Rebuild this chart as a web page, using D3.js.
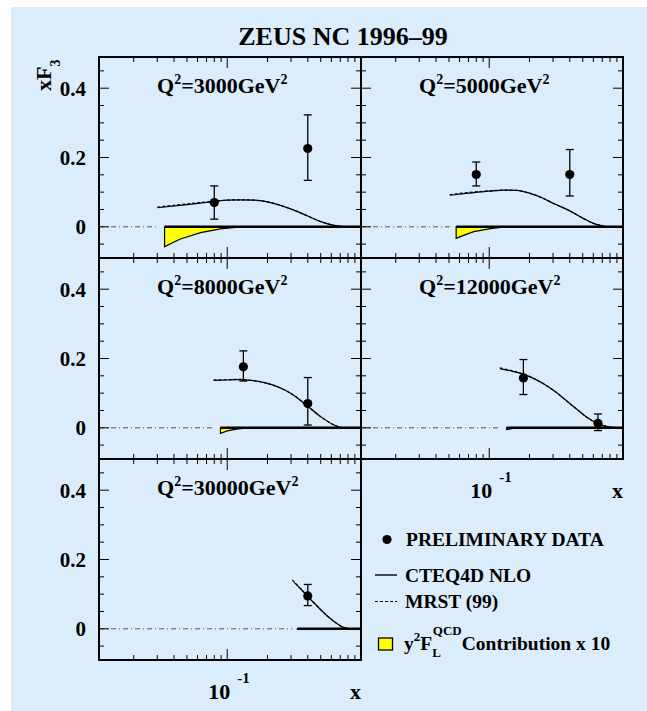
<!DOCTYPE html>
<html><head><meta charset="utf-8">
<script src="https://cdn.jsdelivr.net/npm/d3@7"></script>
<style>
html,body{margin:0;padding:0;background:#fff;overflow:hidden}
svg{display:block}
svg text{font-family:"Liberation Serif","Times New Roman",serif;font-weight:bold;fill:#000}
</style>
</head><body>
<svg id="c" width="647" height="711"></svg>
<script>
// ---------------- data ----------------
const q2Labels = ["3000", "5000", "8000", "12000", "30000"];
const panelCol = [0, 1, 0, 1, 0];
const panelRow = [0, 0, 1, 1, 2];

// preliminary data points
const dataX  = [[0.08, 0.4], [0.08, 0.4], [0.132, 0.4], [0.18, 0.65], [0.4]];
const dataY  = [[0.070, 0.226], [0.151, 0.151], [0.176, 0.070], [0.144, 0.013], [0.095]];
const errUp  = [[0.118, 0.323], [0.187, 0.223], [0.222, 0.145], [0.197, 0.040], [0.128]];
const errDn  = [[0.022, 0.134], [0.118, 0.089], [0.135, 0.008], [0.096, -0.008], [0.067]];

// CTEQ4D NLO curves
const cteqX = [
  [0.03, 0.05, 0.08, 0.1, 0.126, 0.16, 0.2, 0.25, 0.315, 0.4, 0.5, 0.63, 0.75, 0.85, 1.0],
  [0.0507, 0.07, 0.1, 0.13, 0.16, 0.2, 0.25, 0.3, 0.4, 0.5, 0.6, 0.7, 0.78, 1.0],
  [0.079, 0.1, 0.12, 0.15, 0.2, 0.25, 0.3, 0.35, 0.4, 0.5, 0.63, 0.74, 1.0],
  [0.12, 0.15, 0.18, 0.216, 0.26, 0.3, 0.35, 0.4, 0.46, 0.53, 0.65, 0.8, 1.0],
  [0.316, 0.35, 0.4, 0.45, 0.5, 0.56, 0.63, 0.74, 0.85, 1.0]
];
const cteqY = [
  [0.055, 0.064, 0.073, 0.077, 0.078, 0.077, 0.072, 0.062, 0.048, 0.031, 0.015, 0.004, 0.0005, 0, 0],
  [0.091, 0.097, 0.103, 0.106, 0.105, 0.097, 0.083, 0.068, 0.046, 0.025, 0.010, 0.003, 0, 0],
  [0.137, 0.138, 0.139, 0.137, 0.128, 0.115, 0.099, 0.080, 0.062, 0.032, 0.008, 0, 0],
  [0.171, 0.163, 0.155, 0.142, 0.125, 0.109, 0.089, 0.070, 0.051, 0.032, 0.012, 0.002, 0],
  [0.134, 0.117, 0.093, 0.073, 0.055, 0.037, 0.021, 0.004, 0, 0]
];
// MRST (99) curves
const mrstX = [
  [0.03, 0.05, 0.08, 0.1, 0.126, 0.16, 0.2, 0.25, 0.315, 0.4, 0.5, 0.63, 0.75, 0.85, 1.0],
  [0.0507, 0.07, 0.1, 0.13, 0.16, 0.2, 0.25, 0.3, 0.4, 0.5, 0.6, 0.7, 0.78, 1.0],
  [0.079, 0.1, 0.12, 0.15, 0.2, 0.25, 0.3, 0.35, 0.4, 0.5, 0.63, 0.74, 1.0],
  [0.12, 0.15, 0.18, 0.216, 0.26, 0.3, 0.35, 0.4, 0.46, 0.53, 0.65, 0.8, 1.0],
  [0.306, 0.35, 0.4, 0.45, 0.5, 0.56, 0.63, 0.74, 0.85, 1.0]
];
const mrstY = [
  [0.057, 0.066, 0.074, 0.077, 0.078, 0.077, 0.072, 0.062, 0.048, 0.031, 0.015, 0.004, 0.0005, 0, 0],
  [0.093, 0.099, 0.104, 0.106, 0.105, 0.097, 0.083, 0.068, 0.046, 0.025, 0.010, 0.003, 0, 0],
  [0.138, 0.139, 0.140, 0.137, 0.128, 0.115, 0.099, 0.080, 0.062, 0.032, 0.008, 0, 0],
  [0.173, 0.164, 0.155, 0.142, 0.125, 0.109, 0.089, 0.070, 0.051, 0.032, 0.012, 0.002, 0],
  [0.141, 0.118, 0.093, 0.073, 0.055, 0.037, 0.021, 0.004, 0, 0]
];
// y^2 F_L contribution x 10
const flX = [
  [0.034, 0.04, 0.0447, 0.0632, 0.089, 0.12, 0.15],
  [0.0566, 0.065, 0.0767, 0.1023, 0.13],
  [0.089, 0.1, 0.12, 0.145],
  [0.135, 0.15, 0.175],
  [0.334, 0.38]
];
const flY = [
  [-0.0575, -0.044, -0.035, -0.017, -0.006, -0.001, 0],
  [-0.0335, -0.024, -0.014, -0.005, 0],
  [-0.016, -0.009, -0.003, 0],
  [-0.005, -0.002, 0],
  [-0.001, 0]
];

const yTickLabels = ["0", "0.2", "0.4"];
const yTickValues = [0, 0.2, 0.4];
const xMinorTicks = [0.02,0.03,0.04,0.05,0.06,0.07,0.08,0.09,0.2,0.3,0.4,0.5,0.6,0.7,0.8,0.9];
const xMajorTicks = [0.1];

// ---------------- layout ----------------
const svg = d3.select("#c");
const L = 99, T = 57, PW = 262, PH = 201;

svg.append("rect").attr("x", 11).attr("y", 7).attr("width", 636).attr("height", 704)
  .attr("fill", "#dbedfb");

const x = d3.scaleLog().domain([0.011, 1]).range([0, PW]);
const y = d3.scaleLinear().domain([-0.09, 0.49]).range([PH, 0]);

const line = d3.line().x(d => x(d[0])).y(d => y(d[1])).curve(d3.curveMonotoneX);

q2Labels.forEach((lab, i) => {
  const g = svg.append("g")
    .attr("transform", `translate(${L + panelCol[i] * PW},${T + panelRow[i] * PH})`);

  // zero line dash-dot from left edge to curve start
  const xStart = Math.min(cteqX[i][0], mrstX[i][0]);
  g.append("line").attr("x1", 0).attr("x2", x(xStart)).attr("y1", y(0)).attr("y2", y(0))
    .attr("stroke", "#555").attr("stroke-width", 1).attr("stroke-dasharray", "5,3,1,3");

  // F_L contribution
  const fl = flX[i].map((v, k) => [v, flY[i][k]]);
  const flPts = [[flX[i][0], 0]].concat(fl);
  const area = d3.line().x(d => x(d[0])).y(d => y(d[1])).curve(d3.curveLinear);
  g.append("path").attr("d", area(flPts) + "Z")
    .attr("fill", "#ffff00").attr("stroke", "#000").attr("stroke-width", 1.2);

  // thick solid zero line
  g.append("line").attr("x1", x(flX[i][0])).attr("x2", PW).attr("y1", y(0)).attr("y2", y(0))
    .attr("stroke", "#000").attr("stroke-width", 2.5);

  // theory curves
  g.append("path").attr("d", line(cteqX[i].map((v, k) => [v, cteqY[i][k]])))
    .attr("fill", "none").attr("stroke", "#000").attr("stroke-width", 1.2);
  g.append("path").attr("d", line(mrstX[i].map((v, k) => [v, mrstY[i][k]])))
    .attr("fill", "none").attr("stroke", "#000").attr("stroke-width", 1.2)
    .attr("stroke-dasharray", "3,2");

  // data points
  dataX[i].forEach((dx, k) => {
    const px = x(dx);
    g.append("line").attr("x1", px).attr("x2", px)
      .attr("y1", y(errUp[i][k])).attr("y2", y(errDn[i][k]))
      .attr("stroke", "#000").attr("stroke-width", 1.3);
    [errUp[i][k], errDn[i][k]].forEach(ev => {
      g.append("line").attr("x1", px - 4).attr("x2", px + 4).attr("y1", y(ev)).attr("y2", y(ev))
        .attr("stroke", "#000").attr("stroke-width", 1.3);
    });
    g.append("circle").attr("cx", px).attr("cy", y(dataY[i][k])).attr("r", 4.6).attr("fill", "#000");
  });

  // ticks (all four sides, inside)
  const tk = g.append("g").attr("stroke", "#000").attr("stroke-width", 1);
  for (let k = -1; k <= 9; k++) {
    const v = k * 0.05, len = (k % 4 === 0) ? 10 : 5, py = y(v);
    tk.append("line").attr("x1", 0).attr("x2", len).attr("y1", py).attr("y2", py);
    tk.append("line").attr("x1", PW).attr("x2", PW - len).attr("y1", py).attr("y2", py);
  }
  xMinorTicks.concat(xMajorTicks).forEach(v => {
    const len = xMajorTicks.includes(v) ? 11 : 5, px = x(v);
    tk.append("line").attr("x1", px).attr("x2", px).attr("y1", 0).attr("y2", len);
    tk.append("line").attr("x1", px).attr("x2", px).attr("y1", PH).attr("y2", PH - len);
  });

  // frame
  g.append("rect").attr("width", PW).attr("height", PH)
    .attr("fill", "none").attr("stroke", "#000").attr("stroke-width", 2);

  // Q2 label
  const t = g.append("text").attr("x", 58).attr("y", 36).attr("font-size", 22);
  t.append("tspan").text("Q");
  t.append("tspan").attr("dy", -9).attr("font-size", 14).text("2");
  t.append("tspan").attr("dy", 9).text("=" + lab + "GeV");
  t.append("tspan").attr("dy", -9).attr("font-size", 14).text("2");

  // y tick labels on left column
  if (panelCol[i] === 0) {
    yTickValues.forEach((v, k) => {
      g.append("text").attr("x", -13).attr("y", y(v) + 7.5).attr("text-anchor", "end")
        .attr("font-size", 21).text(yTickLabels[k]);
    });
  }

  // x axis labels for bottom panels of each column
  if (i === 3 || i === 4) {
    const px = x(0.1);
    g.append("text").attr("x", px + 3).attr("y", PH + 39).attr("text-anchor", "end")
      .attr("font-size", 22).text("10");
    g.append("text").attr("x", px + 10).attr("y", PH + 23).attr("font-size", 15).text("-1");
    g.append("text").attr("x", PW).attr("y", PH + 39).attr("text-anchor", "end")
      .attr("font-size", 22).text("x");
  }
});

// title
svg.append("text").attr("x", 343).attr("y", 45).attr("text-anchor", "middle")
  .attr("font-size", 26).text("ZEUS NC 1996\u201399");

// y-axis title xF3
const yt = svg.append("text").attr("transform", "translate(51,91) rotate(-90)").attr("font-size", 22);
yt.append("tspan").text("xF");
yt.append("tspan").attr("dy", 9).attr("font-size", 14).text("3");

// legend
const lg = svg.append("g");
lg.append("circle").attr("cx", 387).attr("cy", 539.5).attr("r", 4.6).attr("fill", "#000");
lg.append("text").attr("x", 406).attr("y", 545.5).attr("font-size", 19.5).text("PRELIMINARY DATA");
lg.append("line").attr("x1", 375).attr("x2", 397).attr("y1", 575).attr("y2", 575)
  .attr("stroke", "#000").attr("stroke-width", 1.4);
lg.append("text").attr("x", 405).attr("y", 581.5).attr("font-size", 19.5).text("CTEQ4D NLO");
lg.append("line").attr("x1", 375).attr("x2", 397).attr("y1", 601.5).attr("y2", 601.5)
  .attr("stroke", "#000").attr("stroke-width", 1.2).attr("stroke-dasharray", "3,2");
lg.append("text").attr("x", 405).attr("y", 608).attr("font-size", 19.5).text("MRST (99)");
lg.append("rect").attr("x", 378.5).attr("y", 638).attr("width", 14).attr("height", 12)
  .attr("fill", "#ffff00").attr("stroke", "#000").attr("stroke-width", 1.3);
const ft = lg.append("text").attr("x", 404).attr("y", 650).attr("font-size", 19.5);
ft.append("tspan").text("y");
ft.append("tspan").attr("dy", -9).attr("font-size", 13).text("2");
ft.append("tspan").attr("dy", 9).text("F");
ft.append("tspan").attr("dy", 7).attr("font-size", 13).text("L");
ft.append("tspan").attr("dx", -8).attr("dy", -22).attr("font-size", 13).text("QCD");
ft.append("tspan").attr("dy", 15).text("Contribution x 10");
</script>
</body></html>
